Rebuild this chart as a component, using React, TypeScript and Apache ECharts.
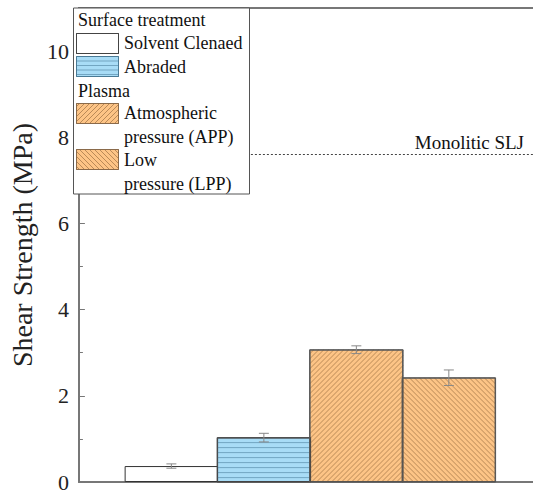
import React, { useEffect, useRef } from "react";
import * as echarts from "echarts";

const categories = ["Solvent Clenaed", "Abraded", "Atmospheric pressure (APP)", "Low pressure (LPP)"];
const strengths = [0.37, 1.03, 3.07, 2.42];
const errors = [0.05, 0.1, 0.09, 0.18];
const monoliticSLJ = 7.6;
const yTicks = [0, 2, 4, 6, 8, 10];
// hatch direction per bar: null none, 0 horizontal, 1 "/", -1 "\"
const hatchDirs = [null, 0, 1, -1];

const FONT = "Liberation Serif";
const BLUE = "#a8dcf6";
const ORANGE = "#fdc486";
const BLUE_LINE = "rgba(70,120,150,0.55)";
const ORANGE_LINE = "rgba(120,80,40,0.5)";
const BAR_W = 93.5;

const barStyles = [
  { color: "#ffffff", borderColor: "#333", borderWidth: 1 },
  { color: BLUE, borderColor: "#444", borderWidth: 1 },
  { color: ORANGE, borderColor: "#555", borderWidth: 1 },
  { color: ORANGE, borderColor: "#555", borderWidth: 1 },
];
const hatchColors = ["none", BLUE_LINE, ORANGE_LINE, ORANGE_LINE];

function hatchLines(x0: number, y0: number, w: number, h: number, dir: number, step: number, color: string, z = 101) {
  const out: any[] = [];
  if (dir === 0) {
    for (let y = y0 + step; y < y0 + h; y += step) {
      out.push({ type: "line", z, shape: { x1: x0, y1: y, x2: x0 + w, y2: y }, style: { stroke: color, lineWidth: 1 } });
    }
    return out;
  }
  for (let c = -(w + h); c <= w + h; c += step) {
    let xa: number, xb: number;
    if (dir === 1) {
      xa = Math.max(0, c - h);
      xb = Math.min(w, c);
      if (xb <= xa) continue;
      out.push({ type: "line", z, shape: { x1: x0 + xa, y1: y0 + c - xa, x2: x0 + xb, y2: y0 + c - xb }, style: { stroke: color, lineWidth: 1 } });
    } else {
      xa = Math.max(0, c);
      xb = Math.min(w, c + h);
      if (xb <= xa) continue;
      out.push({ type: "line", z, shape: { x1: x0 + xa, y1: y0 + xa - c, x2: x0 + xb, y2: y0 + xb - c }, style: { stroke: color, lineWidth: 1 } });
    }
  }
  return out;
}

function swatch(x: number, y: number, fill: string, border: string, dir: number | null, lineColor: string, step: number) {
  const els: any[] = [
    { type: "rect", z: 100, shape: { x, y, width: 42, height: 20 }, style: { fill, stroke: border, lineWidth: 1 } },
  ];
  if (dir !== null) els.push(...hatchLines(x, y, 42, 20, dir, step, lineColor));
  els.push({ type: "rect", z: 102, shape: { x, y, width: 42, height: 20 }, style: { fill: "none", stroke: border, lineWidth: 1 } });
  return els;
}

function legendText(text: string, x: number, y: number) {
  return { type: "text", z: 103, x, y, style: { text, fontFamily: FONT, fontSize: 18, fill: "#111", verticalAlign: "middle", align: "left" } };
}

export default function App() {
  const ref = useRef<HTMLDivElement>(null);
  useEffect(() => {
    if (!ref.current) return;
    const chart = echarts.init(ref.current, null, { renderer: "svg" });
    const barData = strengths.map((v, i) => ({ value: [i + 1, v], itemStyle: barStyles[i], name: categories[i] }));
    const hatchData = strengths.map((v, i) => [i + 1, v, i]);
    const errData = strengths.map((v, i) => [i + 1, v, errors[i]]);
    const graphics: any[] = [
      { type: "rect", z: 99, shape: { x: 73.5, y: 8, width: 176, height: 186 }, style: { fill: "#fff", stroke: "#555", lineWidth: 1 } },
      legendText("Surface treatment", 78, 20),
      ...swatch(76.5, 33.5, "#fff", "#444", null, "", 5),
      legendText(categories[0], 124, 43),
      ...swatch(76.5, 56.5, BLUE, "#4a7a95", 0, BLUE_LINE, 4.5),
      legendText(categories[1], 124, 67),
      legendText("Plasma", 78, 91),
      ...swatch(76.5, 103.5, ORANGE, "#8a6a4a", 1, ORANGE_LINE, 5),
      legendText("Atmospheric", 124, 113),
      legendText("pressure (APP)", 124, 137),
      ...swatch(76.5, 149.5, ORANGE, "#8a6a4a", -1, ORANGE_LINE, 5),
      legendText("Low", 124, 160),
      legendText("pressure (LPP)", 124, 184),
    ];
    chart.setOption({
      animation: false,
      textStyle: { fontFamily: FONT },
      grid: { left: 74, top: 8, right: 0, bottom: 9, show: false },
      xAxis: [
        {
          type: "value", min: 0, max: 4.91, position: "bottom",
          axisLine: { show: true, onZero: false, lineStyle: { color: "#777", width: 2 } },
          axisTick: { show: false }, axisLabel: { show: false }, splitLine: { show: false },
        },
        {
          type: "value", min: 0, max: 4.91, position: "top",
          axisLine: { show: true, onZero: false, lineStyle: { color: "#777", width: 2 } },
          axisTick: { show: false }, axisLabel: { show: false }, splitLine: { show: false },
        },
      ],
      yAxis: {
        type: "value", min: 0, max: 11, interval: 2,
        name: "Shear Strength (MPa)", nameLocation: "middle", nameGap: 32, nameRotate: 90,
        nameTextStyle: { fontFamily: FONT, fontSize: 28, color: "#222" },
        axisLine: { show: true, lineStyle: { color: "#777", width: 2 } },
        axisTick: { show: true, inside: true, length: 6, lineStyle: { color: "#777", width: 1 } },
        minorTick: { show: true, splitNumber: 2, length: 4, lineStyle: { color: "#777", width: 1 } },
        axisLabel: {
          fontFamily: FONT, fontSize: 22, color: "#222", margin: 10, showMaxLabel: false,
          formatter: (v: number) => (yTicks.includes(v) ? String(v) : ""),
        },
        splitLine: { show: false },
      },
      series: [
        {
          type: "bar", data: barData, barWidth: BAR_W, z: 2,
          markLine: {
            silent: true, symbol: ["none", "none"],
            lineStyle: { type: [2, 2], color: "#444", width: 1 },
            label: {
              show: true, position: "insideEndTop", formatter: "Monolitic SLJ",
              fontFamily: FONT, fontSize: 19, color: "#111", distance: [9, 3],
            },
            data: [{ yAxis: monoliticSLJ }],
          },
        },
        {
          type: "custom", data: hatchData, z: 3, silent: true,
          encode: { x: 0, y: 1 },
          renderItem: (params: any, api: any) => {
            const x = api.value(0), v = api.value(1), idx = api.value(2);
            const top = api.coord([x, v]);
            const base = api.coord([x, 0]);
            const x0 = top[0] - BAR_W / 2;
            const y0 = top[1];
            const h = base[1] - top[1];
            const dir = hatchDirs[idx];
            const children: any[] = [];
            if (dir !== null && dir !== undefined) {
              children.push(...hatchLines(x0, y0, BAR_W, h, dir, 5, hatchColors[idx], 0));
              children.push({ type: "rect", shape: { x: x0, y: y0, width: BAR_W, height: h }, style: { fill: "none", stroke: barStyles[idx].borderColor, lineWidth: 1 } });
            }
            return { type: "group", children };
          },
        },
        {
          type: "custom", data: errData, z: 5, silent: true,
          encode: { x: 0, y: 1 },
          renderItem: (params: any, api: any) => {
            const x = api.value(0), v = api.value(1), e = api.value(2);
            const lo = api.coord([x, v - e]);
            const hi = api.coord([x, v + e]);
            const hw = 5;
            const st = { stroke: "#888", lineWidth: 1 };
            return {
              type: "group",
              children: [
                { type: "line", shape: { x1: lo[0], y1: lo[1], x2: hi[0], y2: hi[1] }, style: st },
                { type: "line", shape: { x1: lo[0] - hw, y1: lo[1], x2: lo[0] + hw, y2: lo[1] }, style: st },
                { type: "line", shape: { x1: hi[0] - hw, y1: hi[1], x2: hi[0] + hw, y2: hi[1] }, style: st },
              ],
            };
          },
        },
      ],
      graphic: graphics,
    });
    return () => chart.dispose();
  }, []);
  return <div ref={ref} style={{ width: 533, height: 493, position: "absolute", left: 0, top: 0 }} />;
}
